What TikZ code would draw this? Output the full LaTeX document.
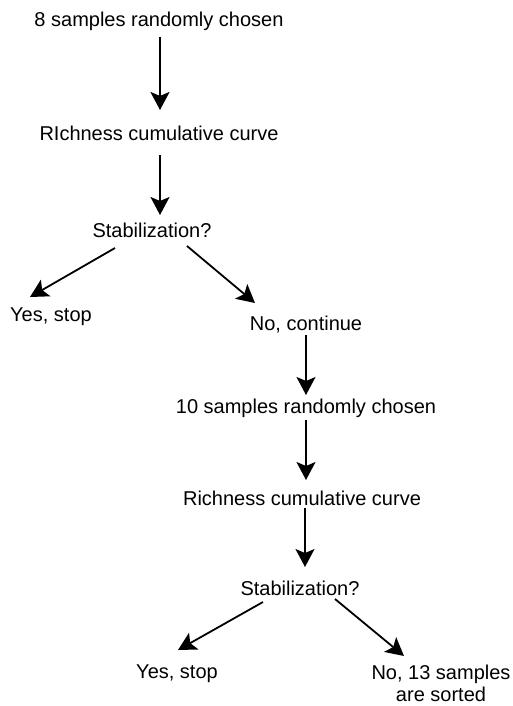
\documentclass[tikz,border=0pt]{standalone}
\usepackage{fontspec}
\setmainfont{Liberation Sans}
\usetikzlibrary{arrows.meta,calc}
\begin{document}
\begin{tikzpicture}[x=1pt,y=-1pt,
  lbl/.style={inner sep=0pt,anchor=base,font=\fontsize{20}{22}\selectfont},
  arr/.style={line width=1.8pt,-{Stealth[length=18pt,width=19pt,inset=4pt]}}]
\useasboundingbox (0,0) rectangle (512,706);
\node[lbl] (t1) at (159,27) {8 samples randomly chosen};
\node[lbl] (r1) at (159,140) {RIchness cumulative curve};
\node[lbl] (s1) at (152,237) {Stabilization?};
\node[lbl] (y1) at (51,321) {Yes, stop};
\node[lbl] (n1) at (306,330) {No, continue};
\node[lbl] (t2) at (306,413) {10 samples randomly chosen};
\node[lbl] (r2) at (302,505) {Richness cumulative curve};
\node[lbl] (s2) at (300,595) {Stabilization?};
\node[lbl] (y2) at (177,678) {Yes, stop};
\node[lbl,anchor=north,align=center] (n2) at (441,665) {No, 13 samples\\are sorted};
\draw[arr] ($(t1.base)+(1,10)$) -- ($(r1.base)+(1,-30)$);
\draw[arr] ($(r1.base)+(1,15)$) -- ($(s1.base)+(8,-22)$);
\draw[arr] ($(s1.base)+(-37,11)$) -- ($(y1.base)+(-21,-24)$);
\draw[arr] ($(s1.base)+(35,9)$) -- ($(n1.base)+(-51,-27)$);
\draw[arr] ($(n1.base)+(0,5)$) -- ($(t2.base)+(0,-18)$);
\draw[arr] ($(t2.base)+(0,7)$) -- ($(r2.base)+(4,-25)$);
\draw[arr] ($(r2.base)+(3,3)$) -- ($(s2.base)+(5,-28)$);
\draw[arr] ($(s2.base)+(-37,7)$) -- ($(y2.base)+(1,-28)$);
\draw[arr] ($(s2.base)+(35,4)$) -- ($(n2.north)+(-37,-9)$);
\end{tikzpicture}
\end{document}
